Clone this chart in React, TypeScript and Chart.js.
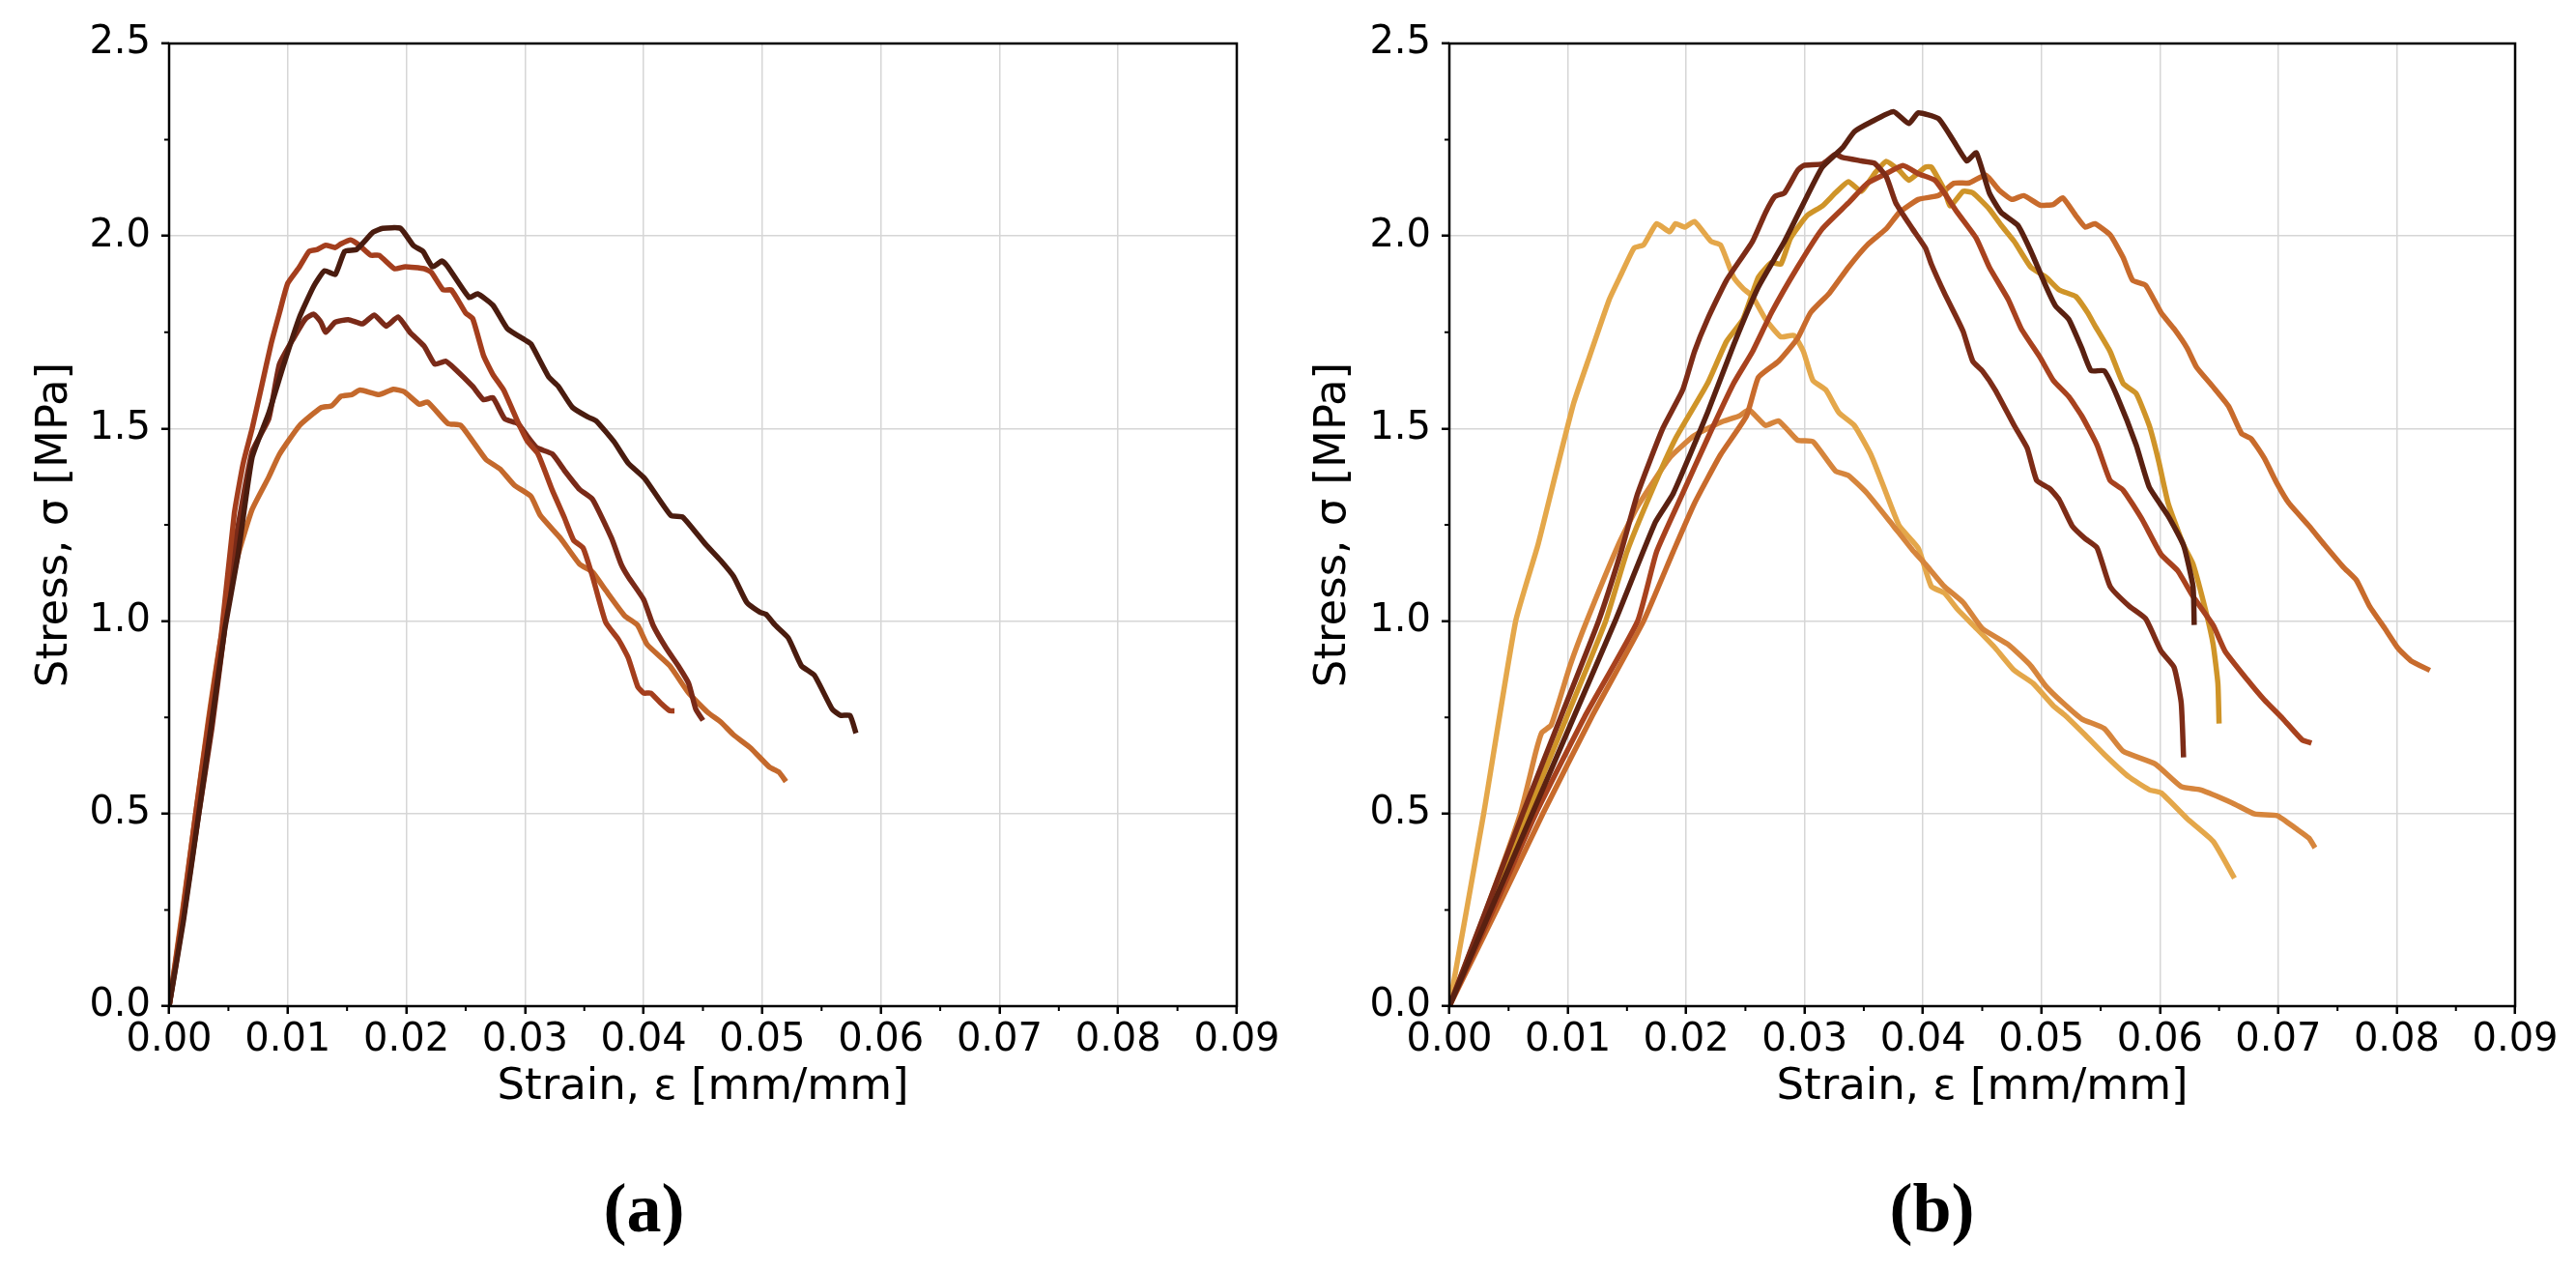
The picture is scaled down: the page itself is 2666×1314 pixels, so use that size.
import React, { useEffect, useRef } from 'react'
import { Chart, ChartConfiguration, Plugin, registerables } from 'chart.js'

type Pt = [number, number]

// minor tick positions (matplotlib style, no labels / no grid)
const xMinorTicks = [0.005, 0.015, 0.025, 0.035, 0.045, 0.055, 0.065, 0.075, 0.085]
const yMinorTicks = [0.25, 0.75, 1.25, 1.75, 2.25]

// (a) specimens: [strain, stress]
const a1: Pt[] = [
  [0, 0], [0.0012, 0.22], [0.0025, 0.5], [0.0036, 0.74], [0.0047, 0.98], [0.0058, 1.17], [0.007, 1.425],
  [0.0084, 1.54], [0.0096, 1.66], [0.011, 1.79], [0.0122, 1.87], [0.0131, 1.91], [0.014, 1.9], [0.0148, 1.96],
  [0.0158, 1.965], [0.0172, 2.01], [0.018, 2.02], [0.0195, 2.02], [0.0206, 1.975], [0.0214, 1.96], [0.0222, 1.92],
  [0.023, 1.935], [0.0235, 1.92], [0.0253, 1.84], [0.026, 1.85], [0.0273, 1.82], [0.0285, 1.76], [0.03, 1.73],
  [0.0305, 1.72], [0.032, 1.634], [0.0328, 1.61], [0.034, 1.555], [0.0353, 1.53], [0.036, 1.52], [0.0375, 1.466],
  [0.0387, 1.41], [0.0401, 1.37], [0.0423, 1.274], [0.0433, 1.27], [0.0452, 1.2], [0.0465, 1.157], [0.0476, 1.115],
  [0.0487, 1.048], [0.0498, 1.023], [0.0503, 1.018], [0.0511, 0.989], [0.0522, 0.956], [0.0533, 0.884],
  [0.0544, 0.859], [0.0559, 0.771], [0.0566, 0.755], [0.0574, 0.755], [0.0579, 0.709],
]
const a2: Pt[] = [
  [0, 0], [0.0011, 0.23], [0.0022, 0.49], [0.0033, 0.73], [0.0044, 0.964], [0.0055, 1.28], [0.00625, 1.41],
  [0.007, 1.5], [0.0078, 1.61], [0.0086, 1.72], [0.0093, 1.8], [0.01, 1.877], [0.011, 1.92], [0.0118, 1.96],
  [0.0125, 1.965], [0.0132, 1.976], [0.014, 1.97], [0.0145, 1.98], [0.0153, 1.99], [0.016, 1.977], [0.017, 1.95],
  [0.0177, 1.95], [0.019, 1.915], [0.0199, 1.92], [0.0215, 1.915], [0.0221, 1.906], [0.0231, 1.86], [0.0238, 1.86],
  [0.025, 1.8], [0.0256, 1.785], [0.0265, 1.69], [0.0273, 1.64], [0.0282, 1.6], [0.0294, 1.517], [0.0302, 1.467],
  [0.0311, 1.434], [0.0323, 1.34], [0.0333, 1.27], [0.0341, 1.21], [0.0349, 1.19], [0.0357, 1.115],
  [0.0368, 0.997], [0.0379, 0.951], [0.0387, 0.905], [0.0395, 0.83], [0.04, 0.813], [0.0406, 0.813],
  [0.0414, 0.788], [0.0422, 0.767], [0.0426, 0.767],
]
const a3: Pt[] = [
  [0, 0], [0.0012, 0.23], [0.0024, 0.48], [0.0036, 0.72], [0.0046, 0.96], [0.0054, 1.17], [0.007, 1.44],
  [0.0084, 1.525], [0.0093, 1.667], [0.0105, 1.735], [0.0115, 1.785], [0.0122, 1.797], [0.0128, 1.776],
  [0.0132, 1.75], [0.014, 1.776], [0.0151, 1.783], [0.0163, 1.772], [0.0173, 1.795], [0.0183, 1.766],
  [0.0193, 1.79], [0.0203, 1.75], [0.0215, 1.714], [0.0224, 1.667], [0.0233, 1.675], [0.0241, 1.655],
  [0.0256, 1.609], [0.0265, 1.575], [0.0273, 1.58], [0.0283, 1.525], [0.0294, 1.513], [0.0302, 1.48],
  [0.031, 1.45], [0.0323, 1.434], [0.0334, 1.388], [0.0346, 1.342], [0.0357, 1.316], [0.0373, 1.215],
  [0.0381, 1.148], [0.0387, 1.115], [0.04, 1.056], [0.0408, 0.989], [0.0419, 0.93], [0.043, 0.88],
  [0.0438, 0.838], [0.0444, 0.771], [0.045, 0.742],
]
const a4: Pt[] = [
  [0, 0], [0.0011, 0.24], [0.0022, 0.49], [0.0033, 0.74], [0.0044, 0.96], [0.0058, 1.17], [0.007, 1.29],
  [0.0084, 1.374], [0.0093, 1.433], [0.011, 1.508], [0.0128, 1.554], [0.0137, 1.559], [0.0145, 1.584],
  [0.0154, 1.588], [0.0161, 1.6], [0.0177, 1.588], [0.0189, 1.602], [0.0198, 1.596], [0.0211, 1.563],
  [0.0218, 1.569], [0.0235, 1.513], [0.0246, 1.508], [0.0267, 1.42], [0.0279, 1.395], [0.0291, 1.353],
  [0.0305, 1.324], [0.0313, 1.274], [0.033, 1.215], [0.0346, 1.148], [0.0357, 1.127], [0.0368, 1.08],
  [0.0384, 1.014], [0.0395, 0.989], [0.0403, 0.939], [0.0422, 0.884], [0.0438, 0.813], [0.0454, 0.763],
  [0.0465, 0.738], [0.0476, 0.704], [0.049, 0.671], [0.0506, 0.621], [0.0514, 0.608], [0.052, 0.583],
]

// (b) specimens
const b1: Pt[] = [
  [0, 0], [0.0029, 0.5], [0.0056, 1.0], [0.0075, 1.2], [0.0089, 1.373], [0.0105, 1.566], [0.0118, 1.684],
  [0.0135, 1.835], [0.0145, 1.9], [0.0156, 1.969], [0.0164, 1.977], [0.0175, 2.032], [0.0186, 2.011],
  [0.0191, 2.032], [0.0199, 2.023], [0.0207, 2.038], [0.0221, 1.986], [0.0229, 1.977], [0.024, 1.893],
  [0.0248, 1.864], [0.0256, 1.843], [0.0267, 1.784], [0.028, 1.738], [0.0291, 1.742], [0.0299, 1.7],
  [0.0307, 1.625], [0.0318, 1.6], [0.0329, 1.541], [0.0342, 1.508], [0.0356, 1.432], [0.0369, 1.331],
  [0.038, 1.247], [0.0396, 1.189], [0.0407, 1.09], [0.0418, 1.073], [0.0429, 1.031], [0.0445, 0.981],
  [0.0461, 0.93], [0.0477, 0.872], [0.0493, 0.838], [0.051, 0.78], [0.052, 0.755], [0.0537, 0.704],
  [0.0553, 0.654], [0.0574, 0.595], [0.0591, 0.562], [0.0601, 0.554], [0.0623, 0.487], [0.0645, 0.428],
  [0.0663, 0.332],
]
const b2: Pt[] = [
  [0, 0], [0.003, 0.24], [0.006, 0.5], [0.0073, 0.66], [0.0078, 0.71], [0.0086, 0.73], [0.0102, 0.885],
  [0.0116, 1.0], [0.0143, 1.2], [0.0159, 1.298], [0.0186, 1.424], [0.0207, 1.482], [0.0229, 1.516],
  [0.0245, 1.533], [0.0253, 1.549], [0.0267, 1.508], [0.0278, 1.52], [0.0294, 1.47], [0.0307, 1.466],
  [0.0326, 1.39], [0.0337, 1.378], [0.0353, 1.331], [0.0375, 1.247], [0.0391, 1.185], [0.0402, 1.148],
  [0.0418, 1.09], [0.0434, 1.048], [0.045, 0.981], [0.0472, 0.939], [0.0491, 0.884], [0.0504, 0.83],
  [0.0518, 0.788], [0.0534, 0.746], [0.0553, 0.721], [0.0569, 0.662], [0.0596, 0.629], [0.0618, 0.57],
  [0.0634, 0.562], [0.0661, 0.528], [0.068, 0.499], [0.0699, 0.495], [0.0715, 0.461], [0.0726, 0.436],
  [0.0731, 0.411],
]
const b3: Pt[] = [
  [0, 0], [0.0035, 0.25], [0.007, 0.5], [0.0105, 0.75], [0.014, 1.0], [0.0174, 1.257], [0.0189, 1.331],
  [0.0218, 1.541], [0.024, 1.717], [0.0261, 1.868], [0.0283, 1.986], [0.0302, 2.103], [0.0315, 2.179],
  [0.0332, 2.229], [0.0342, 2.271], [0.0356, 2.296], [0.0375, 2.323], [0.0388, 2.292], [0.0396, 2.32],
  [0.0413, 2.305], [0.0426, 2.246], [0.0437, 2.195], [0.0445, 2.216], [0.0456, 2.112], [0.0466, 2.061],
  [0.048, 2.028], [0.0491, 1.961], [0.0504, 1.868], [0.0512, 1.818], [0.0523, 1.784], [0.0534, 1.709],
  [0.0542, 1.65], [0.0553, 1.65], [0.0564, 1.583], [0.058, 1.457], [0.0591, 1.348], [0.0607, 1.273],
  [0.062, 1.197], [0.0628, 1.09], [0.0629, 0.99],
]
const b4: Pt[] = [
  [0, 0], [0.0031, 0.25], [0.0062, 0.5], [0.0094, 0.75], [0.0126, 1.0], [0.0145, 1.18], [0.0159, 1.331],
  [0.018, 1.499], [0.0197, 1.6], [0.0207, 1.7], [0.0218, 1.784], [0.0234, 1.885], [0.0256, 1.986],
  [0.0267, 2.061], [0.0275, 2.103], [0.0283, 2.112], [0.0294, 2.17], [0.0299, 2.183], [0.0315, 2.187],
  [0.0326, 2.212], [0.0332, 2.204], [0.0348, 2.195], [0.0359, 2.189], [0.0369, 2.154], [0.0377, 2.086],
  [0.0391, 2.019], [0.0402, 1.969], [0.0407, 1.927], [0.0418, 1.852], [0.0429, 1.784], [0.0434, 1.751],
  [0.0442, 1.675], [0.045, 1.65], [0.0461, 1.6], [0.0477, 1.508], [0.0488, 1.449], [0.0496, 1.365],
  [0.0507, 1.344], [0.0515, 1.315], [0.0526, 1.247], [0.0537, 1.214], [0.0547, 1.19], [0.0558, 1.09],
  [0.0574, 1.039], [0.0588, 1.006], [0.0601, 0.922], [0.0612, 0.88], [0.0618, 0.788], [0.062, 0.646],
]
const b5: Pt[] = [
  [0, 0], [0.0037, 0.25], [0.0073, 0.5], [0.0114, 0.75], [0.0159, 1.0], [0.0175, 1.18], [0.0197, 1.331],
  [0.0218, 1.474], [0.024, 1.617], [0.0256, 1.7], [0.0272, 1.801], [0.0294, 1.919], [0.0315, 2.019],
  [0.0337, 2.086], [0.0353, 2.137], [0.0369, 2.162], [0.0383, 2.183], [0.0396, 2.162], [0.041, 2.145],
  [0.0418, 2.112], [0.0429, 2.061], [0.0445, 1.994], [0.0456, 1.919], [0.0472, 1.835], [0.0483, 1.759],
  [0.0499, 1.684], [0.051, 1.625], [0.0523, 1.583], [0.0534, 1.533], [0.0547, 1.457], [0.0558, 1.365],
  [0.0569, 1.34], [0.0585, 1.264], [0.0601, 1.173], [0.0615, 1.131], [0.0628, 1.064], [0.0645, 0.989],
  [0.0655, 0.922], [0.0674, 0.847], [0.0688, 0.796], [0.0704, 0.746], [0.072, 0.692], [0.0728, 0.683],
]
const b6: Pt[] = [
  [0, 0], [0.0033, 0.25], [0.0066, 0.5], [0.0099, 0.75], [0.0132, 1.0], [0.015, 1.18], [0.017, 1.331],
  [0.0191, 1.474], [0.0218, 1.617], [0.0234, 1.726], [0.0248, 1.784], [0.0261, 1.893], [0.0272, 1.931],
  [0.028, 1.927], [0.0288, 1.994], [0.0302, 2.053], [0.0315, 2.078], [0.0326, 2.112], [0.0337, 2.141],
  [0.0348, 2.116], [0.0359, 2.162], [0.0369, 2.194], [0.038, 2.17], [0.0388, 2.145], [0.0402, 2.179],
  [0.0407, 2.179], [0.0418, 2.12], [0.0423, 2.078], [0.0434, 2.116], [0.0442, 2.112], [0.0456, 2.07],
  [0.0466, 2.028], [0.0477, 1.986], [0.0491, 1.919], [0.0504, 1.893], [0.0515, 1.86], [0.0529, 1.843],
  [0.0539, 1.801], [0.0545, 1.768], [0.0558, 1.7], [0.0569, 1.617], [0.058, 1.591], [0.0591, 1.508],
  [0.0599, 1.415], [0.0607, 1.306], [0.062, 1.197], [0.0628, 1.148], [0.0639, 1.023], [0.0645, 0.939],
  [0.0649, 0.838], [0.065, 0.734],
]
const b7: Pt[] = [
  [0, 0], [0.004, 0.25], [0.0079, 0.5], [0.012, 0.75], [0.0164, 1.0], [0.0189, 1.18], [0.0207, 1.306],
  [0.0229, 1.432], [0.0251, 1.533], [0.0261, 1.633], [0.0278, 1.675], [0.0294, 1.734], [0.0305, 1.801],
  [0.0321, 1.852], [0.0337, 1.919], [0.0353, 1.977], [0.0369, 2.019], [0.038, 2.061], [0.0396, 2.095],
  [0.0413, 2.105], [0.0426, 2.137], [0.0439, 2.138], [0.0453, 2.158], [0.0464, 2.12], [0.0475, 2.095],
  [0.0485, 2.105], [0.0499, 2.08], [0.051, 2.082], [0.0518, 2.099], [0.0529, 2.053], [0.0537, 2.023],
  [0.0545, 2.032], [0.0558, 2.003], [0.0569, 1.944], [0.0577, 1.885], [0.0588, 1.872], [0.0601, 1.801],
  [0.0612, 1.759], [0.0623, 1.709], [0.0631, 1.659], [0.0645, 1.608], [0.0658, 1.558], [0.0669, 1.487],
  [0.0677, 1.474], [0.0688, 1.424], [0.0699, 1.357], [0.0709, 1.306], [0.0726, 1.247], [0.0739, 1.198],
  [0.0755, 1.14], [0.0766, 1.106], [0.0777, 1.039], [0.079, 0.981], [0.0801, 0.93], [0.0812, 0.897],
  [0.0828, 0.872],
]

type Curve = { data: Pt[]; color: string }

const curvesA: Curve[] = [
  { data: a1, color: '#4a1c0f' },
  { data: a2, color: '#a43e1d' },
  { data: a3, color: '#7a2a18' },
  { data: a4, color: '#c4692c' },
]
const curvesB: Curve[] = [
  { data: b3, color: '#5a2111' },
  { data: b4, color: '#7d2c17' },
  { data: b5, color: '#a8421e' },
  { data: b6, color: '#cf9428' },
  { data: b7, color: '#c86b2c' },
  { data: b2, color: '#d6853c' },
  { data: b1, color: '#e4a74a' },
]

const W = 1333
const H = 1314

const framePlugin: Plugin<'line'> = {
  id: 'frame',
  afterDatasetsDraw(chart) {
    const { ctx, chartArea, scales } = chart
    const { left, right, top, bottom } = chartArea
    ctx.save()
    ctx.strokeStyle = '#000'
    ctx.lineWidth = 2
    ctx.beginPath()
    xMinorTicks.forEach((v) => {
      const px = scales.x.getPixelForValue(v)
      ctx.moveTo(px, bottom)
      ctx.lineTo(px, bottom + 5)
    })
    yMinorTicks.forEach((v) => {
      const py = scales.y.getPixelForValue(v)
      ctx.moveTo(left, py)
      ctx.lineTo(left - 5, py)
    })
    ctx.stroke()
    ctx.lineWidth = 2.5
    ctx.strokeRect(left, top, right - left, bottom - top)
    ctx.restore()
  },
}

type PanelProps = {
  caption: string
  curves: Curve[]
  yAxisWidth: number
  rightGap: number
  yTitlePad: number
}

const Panel = ({ caption, curves, yAxisWidth, rightGap, yTitlePad }: PanelProps) => {
  const chartRef = useRef<HTMLCanvasElement>(null)

  useEffect(() => {
    Chart.register(...registerables)

    const tickFont = { family: 'DejaVu Sans', size: 40 }
    const titleFont = { family: 'DejaVu Sans', size: 45 }

    const chartConfig: ChartConfiguration<'line', Pt[]> = {
      type: 'line',
      data: {
        datasets: curves.map((c) => ({
          data: c.data,
          borderColor: c.color,
          backgroundColor: c.color,
          borderWidth: 5.5,
          pointRadius: 0,
          tension: 0.15,
          fill: false,
          borderJoinStyle: 'round' as const,
        })),
      },
      options: {
        responsive: false,
        animation: false,
        events: [],
        layout: { padding: { top: 45, left: 0, right: 0, bottom: 0 } },
        scales: {
          x: {
            type: 'linear',
            min: 0,
            max: 0.09,
            afterFit: (s) => {
              s.height = 168
            },
            border: { display: false },
            grid: { color: '#d6d6d6', lineWidth: 1.5, tickLength: 8, tickColor: '#000', tickWidth: 2.5 },
            ticks: {
              stepSize: 0.01,
              autoSkip: false,
              maxRotation: 0,
              padding: 4,
              color: '#000',
              font: tickFont,
              callback: (v) => Number(v).toFixed(2),
            },
            title: {
              display: true,
              text: 'Strain, ε [mm/mm]',
              color: '#000',
              font: titleFont,
              padding: { top: 0, bottom: 57 },
            },
          },
          y: {
            type: 'linear',
            min: 0,
            max: 2.5,
            afterFit: (s) => {
              s.width = yAxisWidth
            },
            border: { display: false },
            grid: { color: '#d6d6d6', lineWidth: 1.5, tickLength: 8, tickColor: '#000', tickWidth: 2.5 },
            ticks: {
              stepSize: 0.5,
              padding: 11,
              color: '#000',
              font: tickFont,
              callback: (v) => Number(v).toFixed(1),
            },
            title: {
              display: true,
              text: 'Stress, σ [MPa]',
              color: '#000',
              font: titleFont,
              padding: { top: yTitlePad, bottom: 0 },
            },
          },
          gap: {
            type: 'linear',
            position: 'right',
            afterFit: (s) => {
              s.width = rightGap
            },
            border: { display: false },
            grid: { display: false },
            ticks: { display: false },
          },
        },
        plugins: {
          legend: { display: false },
          tooltip: { enabled: false },
          title: {
            display: true,
            text: caption,
            position: 'bottom',
            color: '#000',
            font: { family: 'Liberation Serif', size: 72, weight: 'bold', lineHeight: 1 },
            padding: { top: 10, bottom: 23 },
          },
        },
      },
      plugins: [framePlugin],
    }

    const chart = new Chart(chartRef.current as HTMLCanvasElement, chartConfig as any)

    return () => {
      chart.destroy()
    }
  }, [caption, curves, yAxisWidth, rightGap, yTitlePad])

  return <canvas ref={chartRef} width={W} height={H} style={{ display: 'block', width: W, height: H }}></canvas>
}

const App = () => (
  <div style={{ position: 'absolute', left: 0, top: 0, width: 2 * W, height: H, display: 'flex', background: '#fff' }}>
    <Panel caption="(a)" curves={curvesA} yAxisWidth={175} rightGap={53} yTitlePad={30} />
    <Panel caption="(b)" curves={curvesB} yAxisWidth={167} rightGap={63} yTitlePad={20} />
  </div>
)

export default App
